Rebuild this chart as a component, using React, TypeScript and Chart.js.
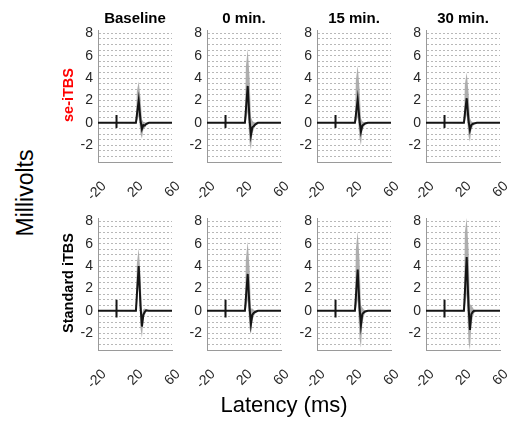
import React, { useEffect, useRef } from 'react';
import { Chart, registerables } from 'chart.js';

Chart.register(...registerables);

// ---------- data ----------
const TIME = [-20, -0.1, -0.03, 0.03, 0.1, 21, 22, 24, 26, 27.5, 29, 30.5, 32, 35, 60];

const COL_TITLES = ['Baseline', '0 min.', '15 min.', '30 min.'];
const ROW_LABELS = ['se-iTBS', 'Standard iTBS'];
const Y_TICK_LABELS = [-2, 0, 2, 4, 6, 8];
const X_TICKS = [-20, 20, 60];

// se-iTBS row: mean MEP and upper / lower envelope (mV)
const seBaselineMean = [0, 0, 0.7, -0.45, 0, 0, 0.7, 2.0, 0.2, -0.55, -0.2, -0.25, -0.1, 0, 0];
const seBaselineUp = [0, 0, 0.7, -0.45, 0, 0.05, 2.8, 3.7, 2.2, 0.3, 0.1, 0.0, 0.05, 0.02, 0];
const seBaselineLo = [0, 0, 0.7, -0.45, 0, -0.05, 0.1, 0.6, -1.0, -1.4, -0.6, -0.45, -0.25, -0.02, 0];

const se0Mean = [0, 0, 0.7, -0.45, 0, 0, 1.1, 3.3, 0.3, -1.1, -0.4, -0.3, -0.15, 0, 0];
const se0Up = [0, 0, 0.7, -0.45, 0, 0.05, 5.0, 6.6, 4.0, 0.5, 0.2, 0.05, 0.05, 0.02, 0];
const se0Lo = [0, 0, 0.7, -0.45, 0, -0.05, 0.1, 1.0, -1.8, -2.4, -1.0, -0.6, -0.3, -0.02, 0];

const se15Mean = [0, 0, 0.7, -0.45, 0, 0, 0.7, 2.1, 0.2, -0.8, -0.25, -0.15, -0.05, 0, 0];
const se15Up = [0, 0, 0.7, -0.45, 0, 0.05, 3.8, 5.1, 3.0, 0.4, 0.15, 0.05, 0.05, 0.02, 0];
const se15Lo = [0, 0, 0.7, -0.45, 0, -0.05, 0.05, 0.5, -1.4, -2.0, -0.7, -0.4, -0.2, -0.02, 0];

const se30Mean = [0, 0, 0.7, -0.45, 0, 0, 0.8, 2.2, 0.2, -0.65, -0.2, -0.1, -0.05, 0, 0];
const se30Up = [0, 0, 0.7, -0.45, 0, 0.05, 3.4, 4.5, 2.7, 0.4, 0.15, 0.05, 0.05, 0.02, 0];
const se30Lo = [0, 0, 0.7, -0.45, 0, -0.05, 0.1, 0.7, -1.2, -1.7, -0.6, -0.35, -0.15, -0.02, 0];

// Standard iTBS row
const stBaselineMean = [0, 0, 1.0, -0.6, 0, 0, 1.4, 4.0, 0.4, -1.4, -0.35, -0.1, 0.05, 0, 0];
const stBaselineUp = [0, 0, 1.0, -0.6, 0, 0.05, 4.2, 5.6, 3.2, -0.3, 0.15, 0.2, 0.15, 0.02, 0];
const stBaselineLo = [0, 0, 1.0, -0.6, 0, -0.05, 0.3, 2.4, -1.6, -2.4, -0.8, -0.4, -0.1, -0.02, 0];

const st0Mean = [0, 0, 1.0, -0.6, 0, 0, 1.1, 3.3, 0.3, -1.2, -0.35, -0.2, -0.1, 0, 0];
const st0Up = [0, 0, 1.0, -0.6, 0, 0.05, 4.6, 6.2, 3.8, 0.2, 0.2, 0.1, 0.05, 0.02, 0];
const st0Lo = [0, 0, 1.0, -0.6, 0, -0.05, 0.1, 1.0, -1.6, -2.1, -0.9, -0.5, -0.25, -0.02, 0];

const st15Mean = [0, 0, 1.0, -0.6, 0, 0, 1.2, 3.7, 0.3, -1.3, -0.3, -0.15, -0.05, 0, 0];
const st15Up = [0, 0, 1.0, -0.6, 0, 0.05, 5.5, 7.1, 4.5, 0.5, 0.3, 0.15, 0.05, 0.02, 0];
const st15Lo = [0, 0, 1.0, -0.6, 0, -0.05, 0.1, 1.0, -2.5, -3.3, -1.2, -0.5, -0.2, -0.02, 0];

const st30Mean = [0, 0, 1.0, -0.6, 0, 0, 1.6, 4.8, 0.4, -1.7, -0.3, -0.1, 0, 0, 0];
const st30Up = [0, 0, 1.0, -0.6, 0, 0.05, 7.0, 8.3, 5.5, 0.6, 0.5, 0.3, 0.1, 0.02, 0];
const st30Lo = [0, 0, 1.0, -0.6, 0, -0.05, 0.2, 1.5, -2.8, -3.5, -1.3, -0.6, -0.2, -0.02, 0];

const ROWS = [
  [
    [seBaselineMean, seBaselineUp, seBaselineLo],
    [se0Mean, se0Up, se0Lo],
    [se15Mean, se15Up, se15Lo],
    [se30Mean, se30Up, se30Lo],
  ],
  [
    [stBaselineMean, stBaselineUp, stBaselineLo],
    [st0Mean, st0Up, st0Lo],
    [st15Mean, st15Up, st15Lo],
    [st30Mean, st30Up, st30Lo],
  ],
];

// ---------- layout ----------
const COL_LEFT = [98, 207, 317, 426];
const ROW_TOP = [30, 218];
const PLOT_W = 74;
const PLOT_H = 132;
const Y_W = 34;
const X_H = 45;
const PAD_T = 10;
const PAD_R = 10;
const FONT = "'Liberation Sans', Arial, Helvetica, sans-serif";

function Panel({ mean, up, lo, left, top }: { mean: number[]; up: number[]; lo: number[]; left: number; top: number }) {
  const ref = useRef<HTMLCanvasElement>(null);
  const W = Y_W + PLOT_W + PAD_R;
  const H = PAD_T + PLOT_H + X_H;

  useEffect(() => {
    if (!ref.current) return;
    const meanPts = TIME.map((t, i) => ({ x: t, y: mean[i] }));
    const upperPts = TIME.map((t, i) => ({ x: t, y: up[i] }));
    const lowerPts = TIME.map((t, i) => ({ x: t, y: lo[i] }));
    const chart = new Chart(ref.current, {
      type: 'line',
      data: {
        datasets: [
          {
            data: meanPts,
            borderColor: '#151515',
            borderWidth: 2,
            pointRadius: 0,
            fill: false,
            tension: 0,
          },
          {
            data: upperPts,
            borderWidth: 0,
            borderColor: 'rgba(0,0,0,0)',
            pointRadius: 0,
            fill: '+1',
            backgroundColor: 'rgba(165,165,165,0.9)',
            tension: 0,
          },
          {
            data: lowerPts,
            borderWidth: 0,
            borderColor: 'rgba(0,0,0,0)',
            pointRadius: 0,
            fill: false,
            tension: 0,
          },
        ],
      },
      options: {
        responsive: false,
        animation: false,
        events: [],
        layout: { padding: { top: PAD_T, right: PAD_R, left: 0, bottom: 0 } },
        plugins: { legend: { display: false }, tooltip: { enabled: false }, title: { display: false } },
        scales: {
          x: {
            type: 'linear',
            min: -20,
            max: 60,
            afterBuildTicks: (s: any) => {
              s.ticks = X_TICKS.map((v) => ({ value: v }));
            },
            ticks: {
              autoSkip: false,
              minRotation: 45,
              maxRotation: 45,
              padding: 8,
              labelOffset: 6,
              color: '#262626',
              font: { family: FONT, size: 14 },
              callback: (v: any) => String(v),
            },
            grid: { display: false },
            border: { display: true, color: '#9a9a9a', width: 1 },
            afterFit: (s: any) => {
              s.height = X_H;
              s.paddingLeft = 0;
              s.paddingRight = 0;
            },
          },
          y: {
            type: 'linear',
            min: -3.5,
            max: 8.3,
            ticks: {
              stepSize: 0.5,
              includeBounds: false,
              autoSkip: false,
              padding: 5,
              color: '#262626',
              font: { family: FONT, size: 14 },
              callback: (v: any) => (Y_TICK_LABELS.includes(v) ? String(v) : ''),
            },
            grid: {
              drawTicks: false,
              lineWidth: 1,
              color: (ctx: any) => (ctx.tick && ctx.tick.value > -3.4 ? '#b8b8b8' : 'rgba(0,0,0,0)'),
            },
            border: { display: true, color: '#9a9a9a', width: 1, dash: [2, 2] },
            afterFit: (s: any) => {
              s.width = Y_W;
              s.paddingTop = 0;
              s.paddingBottom = 0;
            },
          },
        },
      },
    } as any);
    return () => chart.destroy();
  }, []);

  return (
    <canvas
      ref={ref}
      width={W}
      height={H}
      style={{ position: 'absolute', left: left - Y_W, top: top - PAD_T, width: W, height: H }}
    />
  );
}

const centered = (x: number, y: number, extra: React.CSSProperties = {}): React.CSSProperties => ({
  position: 'absolute',
  left: x,
  top: y,
  transform: 'translate(-50%, -50%)',
  whiteSpace: 'nowrap',
  fontFamily: FONT,
  lineHeight: 1.15,
  ...extra,
});

export default function App() {
  return (
    <div style={{ position: 'absolute', left: 0, top: 0, width: 511, height: 422, background: '#fff', overflow: 'hidden' }}>
      {ROWS.map((row, r) =>
        row.map(([mean, up, lo], c) => (
          <Panel key={`${r}-${c}`} mean={mean} up={up} lo={lo} left={COL_LEFT[c]} top={ROW_TOP[r]} />
        ))
      )}
      {COL_TITLES.map((t, c) => (
        <div key={t} style={centered(COL_LEFT[c] + PLOT_W / 2, 18, { fontWeight: 'bold', fontSize: 15, color: '#000' })}>
          {t}
        </div>
      ))}
      <div style={centered(67.5, 95, { fontWeight: 'bold', fontSize: 14.5, color: '#ff0000', transform: 'translate(-50%, -50%) rotate(-90deg)' })}>
        {ROW_LABELS[0]}
      </div>
      <div style={centered(67.5, 283, { fontWeight: 'bold', fontSize: 14.5, color: '#000', transform: 'translate(-50%, -50%) rotate(-90deg)' })}>
        {ROW_LABELS[1]}
      </div>
      <div style={centered(25, 193, { fontSize: 23, color: '#000', transform: 'translate(-50%, -50%) rotate(-90deg)' })}>
        Millivolts
      </div>
      <div style={centered(284, 405, { fontSize: 22, color: '#000' })}>Latency (ms)</div>
    </div>
  );
}
